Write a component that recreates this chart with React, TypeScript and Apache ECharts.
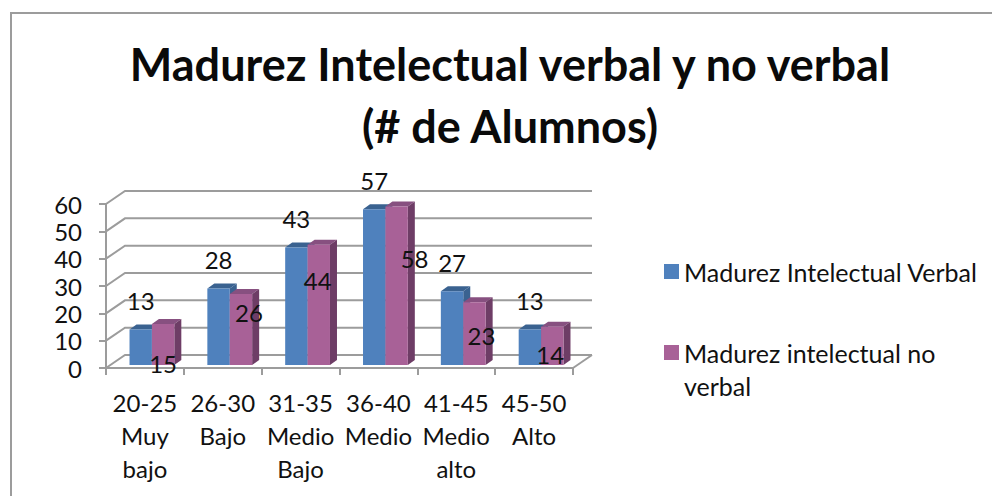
import React, { useEffect, useRef } from "react";
import * as echarts from "echarts";

const categories = [
  "20-25\nMuy\nbajo",
  "26-30\nBajo",
  "31-35\nMedio\nBajo",
  "36-40\nMedio",
  "41-45\nMedio\nalto",
  "45-50\nAlto",
];
const verbalName = "Madurez Intelectual Verbal";
const noVerbalName = "Madurez intelectual no verbal";
const verbal = [13, 28, 43, 57, 27, 13];
const noVerbal = [15, 26, 44, 58, 23, 14];
const yTicks = [0, 10, 20, 30, 40, 50, 60];
const titleText = "Madurez Intelectual verbal y no verbal\n(# de Alumnos)";

// Hand-placed data label offsets from the top centre of each bar's front face
const verbalLabelOffsets = [[0, -29], [0, -29], [0, -29], [0, -29], [0, -29], [0, -29]];
const noVerbalLabelOffsets = [[0, 39], [8, 19], [-1, 36], [18, 52], [7, 33], [-2, 28]];

const FONT = "Lato, 'Open Sans', sans-serif";
const GREY = "#9c9c9c";
const BAR_W = 22.4;
const SHIFT_X = 7;
const SHIFT_Y = -3;
const DX = 7;
const DY = -5;
const BACK_X = 19;
const BACK_Y = -13;

function barRenderer(side: number, front: string, top: string, right: string, offsets: number[][]) {
  return (params: any, api: any) => {
    const i = api.value(0);
    const v = api.value(1);
    const [cx, yv] = api.coord([i, v]);
    const [, y0] = api.coord([i, 0]);
    const x0 = cx + SHIFT_X + (side < 0 ? -BAR_W : 0);
    const x1 = x0 + BAR_W;
    const yTop = yv + SHIFT_Y;
    const yBase = y0 + SHIFT_Y;
    const off = offsets[params.dataIndex];
    return {
      type: "group",
      children: [
        {
          type: "polygon",
          shape: { points: [[x0, yTop], [x0 + DX, yTop + DY], [x1 + DX, yTop + DY], [x1, yTop]] },
          style: { fill: top },
        },
        {
          type: "polygon",
          shape: { points: [[x1, yTop], [x1 + DX, yTop + DY], [x1 + DX, yBase + DY], [x1, yBase]] },
          style: { fill: right },
        },
        { type: "rect", shape: { x: x0, y: yTop, width: BAR_W, height: yBase - yTop }, style: { fill: front } },
        {
          type: "text",
          z2: 10,
          style: {
            text: String(v),
            x: (x0 + x1) / 2 + off[0],
            y: yTop + off[1],
            align: "center",
            verticalAlign: "middle",
            font: `24px ${FONT}`,
            fill: "#111",
          },
        },
      ],
    };
  };
}

function wallRenderer(params: any, api: any) {
  const v = api.value(0);
  const [x0, y] = api.coord([0, v]);
  const xEnd = params.coordSys.x + params.coordSys.width;
  const line = (points: number[][]) => ({
    type: "polyline",
    shape: { points },
    style: { stroke: GREY, lineWidth: 2, fill: "none" },
  });
  const start = params.coordSys.x;
  const children: any[] = [
    line([[start, y], [start + BACK_X, y + BACK_Y], [xEnd + BACK_X, y + BACK_Y]]),
  ];
  if (v === 0) children.push(line([[xEnd, y], [xEnd + BACK_X, y + BACK_Y]]));
  return { type: "group", children };
}

export default function App() {
  const ref = useRef<HTMLDivElement>(null);
  useEffect(() => {
    const chart = echarts.init(ref.current!, null, { renderer: "svg" });
    const legendBase = {
      orient: "vertical" as const,
      left: 664,
      icon: "rect",
      itemWidth: 15,
      itemHeight: 15,
      itemGap: 0,
      padding: 0,
      selectedMode: false,
      textStyle: { fontFamily: FONT, fontSize: 25, lineHeight: 33, color: "#111" },
    };
    chart.setOption({
      animation: false,
      backgroundColor: "#fff",
      title: {
        text: titleText,
        left: 505,
        top: 28,
        textAlign: "center",
        textStyle: { fontFamily: FONT, fontSize: 45, fontWeight: "bold", color: "#0a0a0a", lineHeight: 62 },
      },
      grid: { left: 106, top: 204, width: 467, height: 164 },
      xAxis: {
        type: "category",
        data: categories,
        axisLine: { lineStyle: { color: GREY, width: 2 } },
        axisTick: { show: true, length: 7, lineStyle: { color: GREY, width: 2 } },
        axisLabel: { interval: 0, fontFamily: FONT, fontSize: 24, lineHeight: 33, color: "#111", margin: 18 },
      },
      yAxis: {
        type: "value",
        min: 0,
        max: 60,
        interval: 10,
        splitLine: { show: false },
        axisLine: { show: true, lineStyle: { color: GREY, width: 2 } },
        axisTick: { show: true, length: 7, lineStyle: { color: GREY, width: 2 } },
        axisLabel: { fontFamily: FONT, fontSize: 24, color: "#111", margin: 24 },
      },
      legend: [
        {
          ...legendBase,
          top: 255,
          data: [{ name: verbalName }],
          formatter: () => verbalName,
        },
        {
          ...legendBase,
          top: 303,
          data: [{ name: noVerbalName }],
          formatter: () => " \nMadurez intelectual no\nverbal",
        },
      ],
      graphic: [
        {
          type: "polyline",
          shape: { points: [[11, 496], [11, 13], [992, 13]] },
          style: { stroke: GREY, lineWidth: 2, fill: "none" },
        },
      ],
      series: [
        {
          type: "custom",
          name: "wall",
          silent: true,
          renderItem: wallRenderer,
          data: yTicks.map((t) => [t]),
          encode: { y: 0 },
          z: 1,
        },
        {
          type: "custom",
          name: verbalName,
          renderItem: barRenderer(-1, "#4f81bd", "#3a6290", "#3a6290", verbalLabelOffsets),
          itemStyle: { color: "#4f81bd" },
          data: verbal.map((v, i) => [i, v]),
          encode: { x: 0, y: 1 },
          z: 2,
        },
        {
          type: "custom",
          name: noVerbalName,
          renderItem: barRenderer(1, "#a86197", "#875080", "#6e3d66", noVerbalLabelOffsets),
          itemStyle: { color: "#a86197" },
          data: noVerbal.map((v, i) => [i, v]),
          encode: { x: 0, y: 1 },
          z: 3,
        },
      ],
    });
    return () => chart.dispose();
  }, []);
  return <div ref={ref} style={{ position: "absolute", left: 0, top: 0, width: 992, height: 496 }} />;
}
